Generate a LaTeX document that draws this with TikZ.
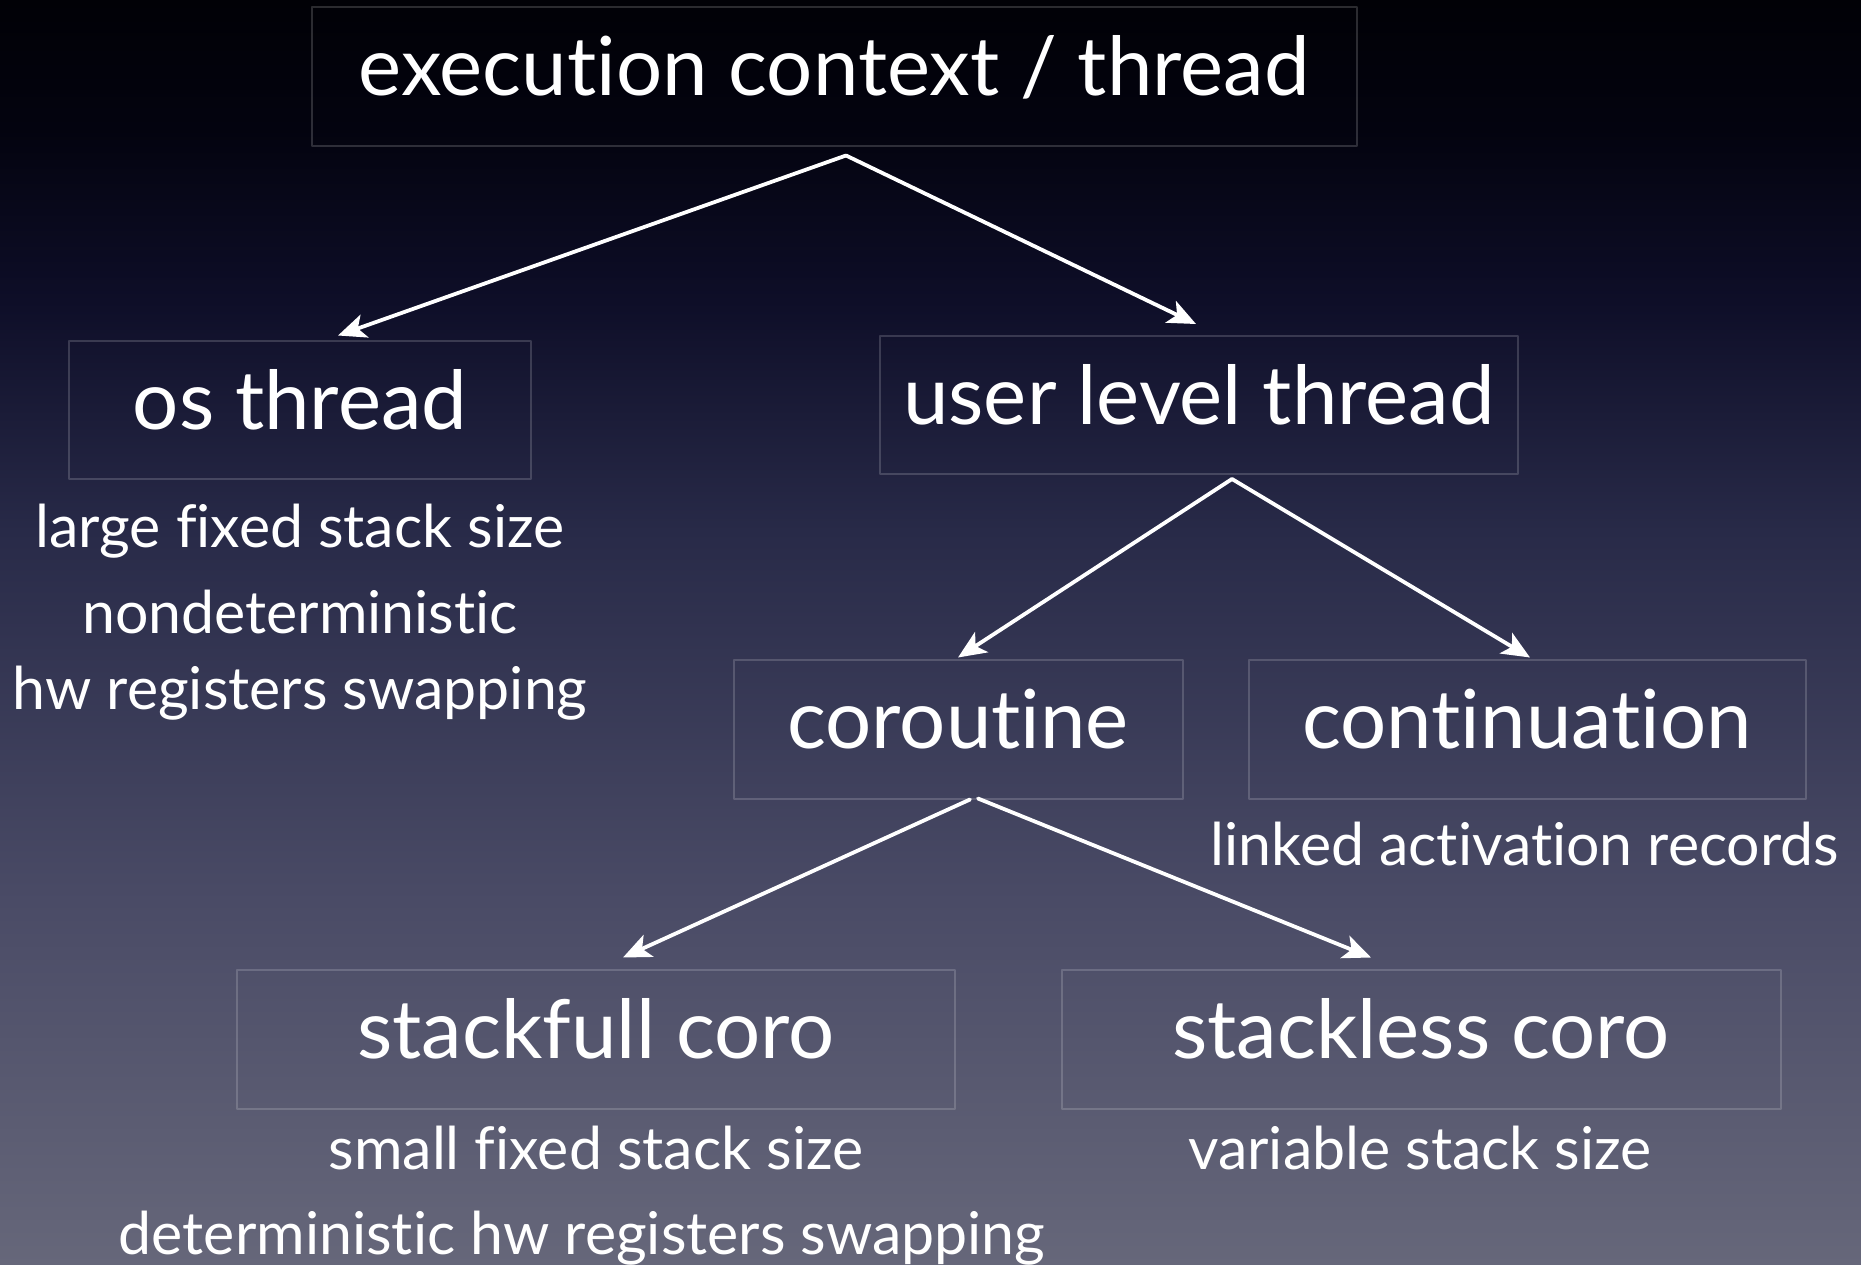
\documentclass[tikz,border=0pt]{standalone}
\usepackage{fontspec}
\setmainfont{Lato}[Ligatures=NoCommon]
\usepackage{tikz}
\usetikzlibrary{arrows.meta}
\definecolor{bgtop}{HTML}{010106}
\definecolor{bgdark}{HTML}{03030F}
\definecolor{bgnavy}{HTML}{0E0E28}
\definecolor{bgmid}{HTML}{282A48}
\definecolor{bglow}{HTML}{4A4B66}
\definecolor{bgbot}{HTML}{66677A}
\pgfdeclareverticalshading{slidebg}{100bp}{color(0bp)=(bgbot); color(25bp)=(bgbot); color(39.4bp)=(bglow); color(54bp)=(bgmid); color(63.1bp)=(bgnavy); color(69.9bp)=(bgdark); color(75bp)=(bgtop); color(100bp)=(bgtop)}

\begin{document}
\begin{tikzpicture}[line cap=round,line join=round,x=1pt,y=-1pt,
  box/.style={draw=white,draw opacity=0.17,line width=2pt,inner sep=0pt,text=white,text height=50pt,text depth=12pt,font=\fontsize{81.5}{92}\selectfont},
  note/.style={text=white,inner sep=0pt,anchor=base,font=\fontsize{59}{68}\selectfont},
  arr/.style={-{Stealth[length=28pt,width=24pt,inset=7pt]},draw=white,line width=3.8pt}]
\useasboundingbox (0,0) rectangle (1861,1265);
\shade[shading=slidebg] (0,0) rectangle (1861,1265);
\node[box,minimum width=1045pt,minimum height=139pt] (ec) at (834,77) {execution context / thread};
\node[box,minimum width=462pt,minimum height=137pt] (os) at (300,410) {os thread};
\node[box,minimum width=638pt,minimum height=138pt] (ult) at (1199,405) {user level thread};
\node[box,minimum width=449pt,minimum height=139pt] (cor) at (958,729) {coroutine};
\node[box,minimum width=557pt,minimum height=139pt] (cont) at (1527,729) {continuation};
\node[box,minimum width=718pt,minimum height=139pt] (sf) at (596,1039) {stackfull coro};
\node[box,minimum width=719pt,minimum height=139pt] (sl) at (1421,1039) {stackless coro};
\node[note] (os1) at (300,547) {large fixed stack size};
\node[note] (os2) at (300,633) {nondeterministic};
\node[note] (os3) at (300,709) {hw registers swapping};
\node[note] (cont1) at (1525,865) {linked activation records};
\node[note] (sf1) at (596,1169) {small fixed stack size};
\node[note] (sf2) at (582,1254) {deterministic hw registers swapping};
\node[note] (sl1) at (1420,1169) {variable stack size};
\coordinate (ectip) at ([xshift=12pt,yshift=-8pt]ec.south);
\coordinate (ulttip) at ([xshift=33pt,yshift=-4pt]ult.south);
\draw[arr] (ectip) -- ([xshift=38pt,yshift=5pt]os.north);
\draw[arr] (ectip) -- ([xshift=-3pt,yshift=11pt]ult.north);
\draw[arr] (ulttip) -- ([yshift=1pt]cor.north);
\draw[arr] (ulttip) -- ([xshift=3pt,yshift=1pt]cont.north);
\draw[arr] ([xshift=12pt]cor.south) -- ([xshift=27pt,yshift=11pt]sf.north);
\draw[arr] ([xshift=20pt,yshift=1pt]cor.south) -- ([xshift=-50pt,yshift=11pt]sl.north);
\end{tikzpicture}
\end{document}
